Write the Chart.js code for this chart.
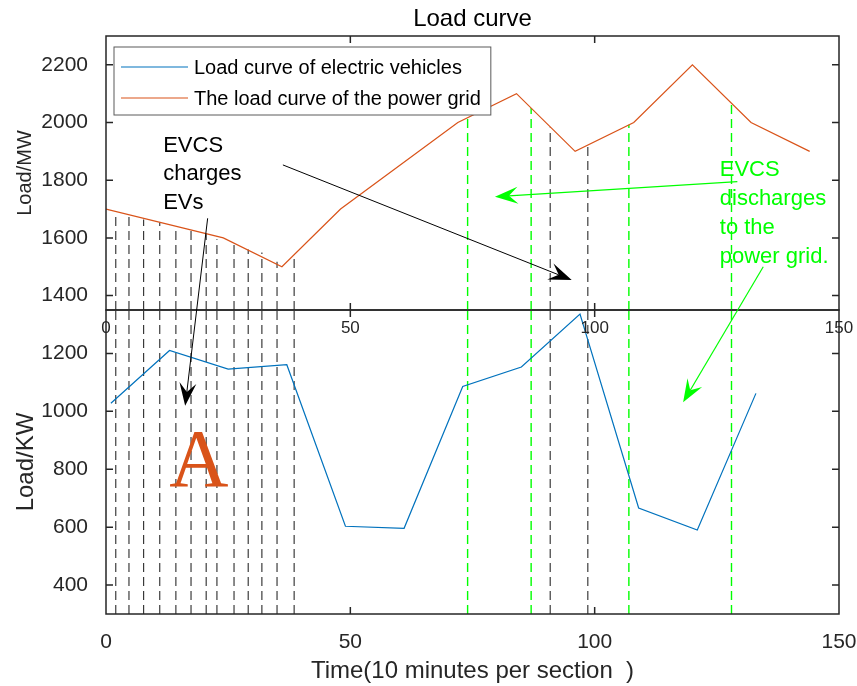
<!DOCTYPE html>
<html>
<head>
<meta charset="utf-8">
<title>Load curve</title>
<script src="https://cdn.jsdelivr.net/npm/chart.js@4.4.0/dist/chart.umd.min.js"></script>
<style>
  html, body { margin: 0; padding: 0; background: #fff; }
  #wrap { position: relative; width: 857px; height: 686px; }
  .layer { position: absolute; left: 0; top: 0; width: 857px; height: 686px; }
</style>
</head>
<body>
<div id="wrap">
  <div class="layer"><canvas id="bottomChart" width="857" height="686"></canvas></div>
  <div class="layer"><canvas id="topChart" width="857" height="686"></canvas></div>
</div>
<script>
// axis ticks
const timeTicks = [0, 50, 100, 150];
const gridLoadTicks = [1400, 1600, 1800, 2000, 2200];
const evLoadTicks = [400, 600, 800, 1000, 1200];
const gridRange = [1350, 2300];
const evRange = [300, 1350];

// power grid load (MW), top panel
const gridTime = [0, 24, 36, 48, 72, 84, 96, 108, 120, 132, 144];
const gridLoad = [1700, 1600, 1500, 1700, 2000, 2100, 1900, 2000, 2200, 2000, 1900];

// EV load (KW), bottom panel
const evTime = [1, 13, 25, 37, 49, 61, 73, 85, 97, 109, 121, 133];
const evLoad = [1028, 1210, 1146, 1161, 603, 596, 1086, 1153, 1336, 666, 590, 1062];

// EVCS charging moments (black dashed) and where they meet the grid curve
const chargeTime = [2, 4.7, 7.7, 11, 14.3, 17.4, 20.5, 22.7, 26.2, 29.1, 31.9, 35, 38.5, 90.9, 98.6];
const chargeTop = [1691, 1679, 1664, 1653, 1641, 1630, 1616, 1595, 1581, 1560, 1549, 1517, 1541, 1983, 1915];

// EVCS discharging moments (green dashed)
const dischargeTime = [74, 87, 107, 128];
const dischargeTop = [2018, 2050, 1992, 2068];

const evLabel = 'Load curve of electric vehicles';
const gridLabel = 'The load curve of the power grid';
const evColor = '#0072BD';
const gridColor = '#D95319';
const chargeColor = '#2b2b2b';
const dischargeColor = '#00ff00';
const axisColor = '#262626';
const fontFamily = '"Liberation Sans", Arial, sans-serif';

Chart.defaults.font.family = fontFamily;
Chart.defaults.color = axisColor;

const toPoints = (xs, ys) => xs.map((x, i) => ({ x: x, y: ys[i] }));
const plainTick = v => String(v);

function dashSet(x, y0, y1, color, width) {
    return {
        data: [{ x: x, y: y0 }, { x: x, y: y1 }],
        borderColor: color,
        borderWidth: width,
        borderDash: [9, 5],
        showLine: true,
        pointRadius: 0
    };
}

function fixedTicks(values) {
    return function(scale) {
        scale.ticks = values.map(v => ({ value: v }));
    };
}

// fixed box size, no extra room for overhanging labels
function fixHeight(h) {
    return function(s) {
        s.height = h;
        s.paddingLeft = 0;
        s.paddingRight = 0;
    };
}
function fixWidth(w) {
    return function(s) {
        s.width = w;
        s.paddingTop = 0;
        s.paddingBottom = 0;
    };
}

// box with inward ticks, like the original
function drawFrame(chart) {
    const { ctx, chartArea: a, scales } = chart;
    ctx.save();
    ctx.strokeStyle = axisColor;
    ctx.lineWidth = 1.5;
    ctx.strokeRect(a.left, a.top, a.right - a.left, a.bottom - a.top);
    ctx.beginPath();
    scales.x.ticks.forEach(t => {
        const px = scales.x.getPixelForValue(t.value);
        if (px <= a.left + 1 || px >= a.right - 1) return;
        ctx.moveTo(px, a.bottom); ctx.lineTo(px, a.bottom - 7);
        ctx.moveTo(px, a.top); ctx.lineTo(px, a.top + 7);
    });
    scales.y.ticks.forEach(t => {
        const py = scales.y.getPixelForValue(t.value);
        ctx.moveTo(a.left, py); ctx.lineTo(a.left + 7, py);
        ctx.moveTo(a.right, py); ctx.lineTo(a.right - 7, py);
    });
    ctx.stroke();
    ctx.restore();
}

function drawArrow(ctx, x1, y1, x2, y2, color, width) {
    const ang = Math.atan2(y2 - y1, x2 - x1);
    const c = Math.cos(ang), s = Math.sin(ang);
    const len = 23, half = 8.5, back = 14;
    const pt = (along, side) => [x2 - c * along - s * side, y2 - s * along + c * side];
    ctx.save();
    ctx.strokeStyle = color;
    ctx.fillStyle = color;
    ctx.lineWidth = width;
    ctx.beginPath();
    ctx.moveTo(x1, y1);
    const n = pt(back, 0);
    ctx.lineTo(n[0], n[1]);
    ctx.stroke();
    const w1 = pt(len, half), w2 = pt(len, -half);
    ctx.beginPath();
    ctx.moveTo(x2, y2);
    ctx.lineTo(w1[0], w1[1]);
    ctx.lineTo(n[0], n[1]);
    ctx.lineTo(w2[0], w2[1]);
    ctx.closePath();
    ctx.fill();
    ctx.restore();
}

// annotations, positioned in data units of either panel
const textNotes = [
    { panel: 'top', x: 11.7, y: 1899, lines: ['EVCS', 'charges', 'EVs'], color: '#000', size: 22, step: 28.5 },
    { panel: 'top', x: 125.6, y: 1815, lines: ['EVCS', 'discharges', 'to the', 'power grid.'], color: dischargeColor, size: 22, step: 29 }
];
const arrowNotes = [
    { from: ['top', 36.2, 1853], to: ['top', 95.3, 1454], color: '#000', width: 1 },
    { from: ['top', 20.8, 1668], to: ['bottom', 16.2, 1019], color: '#000', width: 1 },
    { from: ['top', 129.2, 1795], to: ['top', 79.6, 1743], color: dischargeColor, width: 1.2 },
    { from: ['top', 134.5, 1500], to: ['bottom', 118.1, 1031], color: dischargeColor, width: 1.2 }
];
const panelMark = { panel: 'bottom', x: 19, y: 741, text: 'A', color: gridColor };

const bottomChart = new Chart(document.getElementById('bottomChart'), {
    type: 'scatter',
    data: {
        datasets: [
            {
                label: evLabel,
                data: toPoints(evTime, evLoad),
                borderColor: evColor,
                backgroundColor: evColor,
                borderWidth: 1.2,
                showLine: true,
                pointRadius: 0
            },
            ...chargeTime.map(t => dashSet(t, evRange[0], evRange[1], chargeColor, 1.1)),
            ...dischargeTime.map(t => dashSet(t, evRange[0], evRange[1], dischargeColor, 1.4))
        ]
    },
    options: {
        responsive: false,
        animation: false,
        events: [],
        layout: { padding: { top: 310, right: 18, bottom: 0, left: 0 } },
        plugins: { legend: { display: false }, tooltip: { enabled: false } },
        scales: {
            x: {
                type: 'linear',
                min: 0,
                max: 150,
                afterBuildTicks: fixedTicks(timeTicks),
                afterFit: fixHeight(72),
                grid: { display: false },
                border: { display: false },
                ticks: { font: { size: 21 }, padding: 8, color: axisColor, callback: plainTick },
                title: {
                    display: true,
                    text: 'Time(10 minutes per section  )',
                    font: { size: 24 },
                    color: axisColor,
                    padding: { top: 0, bottom: 0 }
                }
            },
            y: {
                min: evRange[0],
                max: evRange[1],
                afterBuildTicks: fixedTicks(evLoadTicks),
                afterFit: fixWidth(106),
                grid: { display: false },
                border: { display: false },
                ticks: { font: { size: 21 }, padding: 10, color: axisColor, callback: plainTick },
                title: {
                    display: true,
                    text: 'Load/KW',
                    font: { size: 24 },
                    color: axisColor,
                    padding: { top: 12, bottom: 0 }
                }
            }
        }
    },
    plugins: [{ id: 'frame', afterDraw: drawFrame }]
});

const topChart = new Chart(document.getElementById('topChart'), {
    type: 'scatter',
    data: {
        datasets: [
            {
                label: gridLabel,
                data: toPoints(gridTime, gridLoad),
                borderColor: gridColor,
                backgroundColor: gridColor,
                borderWidth: 1.2,
                showLine: true,
                pointRadius: 0
            },
            ...chargeTime.map((t, i) => dashSet(t, gridRange[0], chargeTop[i], chargeColor, 1.1)),
            ...dischargeTime.map((t, i) => dashSet(t, gridRange[0], dischargeTop[i], dischargeColor, 1.4))
        ]
    },
    options: {
        responsive: false,
        animation: false,
        events: [],
        layout: { padding: { top: 0, right: 18, bottom: 0, left: 0 } },
        plugins: {
            legend: { display: false },
            tooltip: { enabled: false },
            title: {
                display: true,
                text: 'Load curve',
                fullSize: false,
                color: '#000',
                font: { size: 24, weight: 'normal' },
                padding: { top: 5, bottom: 2.2 }
            }
        },
        scales: {
            x: {
                type: 'linear',
                min: 0,
                max: 150,
                afterBuildTicks: fixedTicks(timeTicks),
                afterFit: fixHeight(686 - 310),
                grid: { display: false },
                border: { display: false },
                ticks: { font: { size: 17 }, padding: 0, color: axisColor, callback: plainTick }
            },
            y: {
                min: gridRange[0],
                max: gridRange[1],
                afterBuildTicks: fixedTicks(gridLoadTicks),
                afterFit: fixWidth(106),
                grid: { display: false },
                border: { display: false },
                ticks: { font: { size: 21 }, padding: 10, color: axisColor, callback: plainTick },
                title: {
                    display: true,
                    text: 'Load/MW',
                    font: { size: 20 },
                    color: axisColor,
                    padding: { top: 13, bottom: 0 }
                }
            }
        }
    },
    plugins: [{
        id: 'overlay',
        afterDraw(chart) {
            drawFrame(chart);
            const ctx = chart.ctx;
            const a = chart.chartArea;

            // legend box
            const items = [[evLabel, evColor], [gridLabel, gridColor]];
            ctx.save();
            ctx.font = '20px ' + fontFamily;
            const textW = Math.max(...items.map(it => ctx.measureText(it[0]).width));
            const bx = a.left + 8, by = a.top + 11, bw = textW + 80 + 10, bh = 68;
            ctx.fillStyle = '#fff';
            ctx.fillRect(bx, by, bw, bh);
            ctx.strokeStyle = '#5a5a5a';
            ctx.lineWidth = 1;
            ctx.strokeRect(bx, by, bw, bh);
            items.forEach((it, i) => {
                const ry = by + 20 + i * 31;
                ctx.strokeStyle = it[1];
                ctx.lineWidth = 1.2;
                ctx.beginPath();
                ctx.moveTo(bx + 7, ry);
                ctx.lineTo(bx + 74, ry);
                ctx.stroke();
                ctx.fillStyle = '#000';
                ctx.textBaseline = 'middle';
                ctx.textAlign = 'left';
                ctx.fillText(it[0], bx + 80, ry + 1);
            });
            ctx.restore();

            const toPx = (panel, x, y) => {
                const c = panel === 'top' ? chart : bottomChart;
                return [c.scales.x.getPixelForValue(x), c.scales.y.getPixelForValue(y)];
            };

            // texts
            textNotes.forEach(n => {
                const p = toPx(n.panel, n.x, n.y);
                ctx.save();
                ctx.font = n.size + 'px ' + fontFamily;
                ctx.fillStyle = n.color;
                ctx.textAlign = 'left';
                ctx.textBaseline = 'alphabetic';
                n.lines.forEach((line, i) => ctx.fillText(line, p[0], p[1] + i * n.step));
                ctx.restore();
            });

            // arrows
            arrowNotes.forEach(n => {
                const p1 = toPx(...n.from);
                const p2 = toPx(...n.to);
                drawArrow(ctx, p1[0], p1[1], p2[0], p2[1], n.color, n.width);
            });

            // panel mark
            const m = toPx(panelMark.panel, panelMark.x, panelMark.y);
            ctx.save();
            ctx.font = '82px "Liberation Serif", "Times New Roman", serif';
            ctx.fillStyle = panelMark.color;
            ctx.textAlign = 'center';
            ctx.textBaseline = 'alphabetic';
            ctx.fillText(panelMark.text, m[0], m[1]);
            ctx.restore();
        }
    }]
});
</script>
</body>
</html>
